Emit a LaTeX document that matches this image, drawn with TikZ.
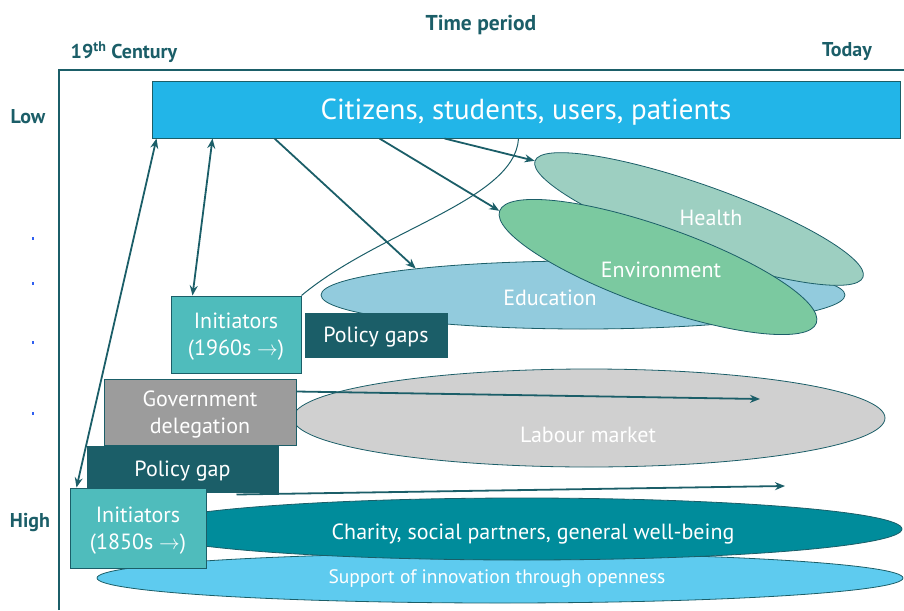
\documentclass[tikz,border=0pt]{standalone}
\usepackage{fontspec}
\setmainfont{PT Sans}
\usepackage{xcolor}
\usetikzlibrary{positioning,shapes.geometric,arrows.meta}
\definecolor{dteal}{HTML}{1B5E68}
\definecolor{skyblue}{HTML}{22B5E8}
\definecolor{initcol}{HTML}{4FBCBC}
\definecolor{govcol}{HTML}{9C9C9C}
\definecolor{labcol}{HTML}{D0D0D0}
\definecolor{charcol}{HTML}{008C9B}
\definecolor{suppcol}{HTML}{5ECBEF}
\definecolor{educol}{HTML}{92CBDD}
\definecolor{healthcol}{HTML}{9DCFC1}
\definecolor{envcol}{HTML}{7BC9A0}
\definecolor{dotcol}{HTML}{3060F0}

\begin{document}
\begin{tikzpicture}[x=1pt, y=-1pt, >={Stealth[length=10pt, width=8pt]}, every node/.style={font=\fontsize{22}{27}\selectfont}]
\tikzstyle{box}=[rectangle, draw=dteal, line width=1pt, text=white, align=center, inner sep=0pt, text depth=0pt]
\tikzstyle{blob}=[ellipse, draw=dteal, line width=0.8pt, inner sep=0pt]
\tikzstyle{conn}=[draw=dteal, line width=1.8pt]
\tikzstyle{lbl}=[text=white]
\tikzstyle{head}=[text=dteal, font=\bfseries\fontsize{20}{24}\selectfont]
\useasboundingbox (0,0) rectangle (904,610);

% axis and headings
\draw[dteal, line width=1.2pt] (59,610) -- (59,70) -- (904,70);
\node[head, font=\bfseries\fontsize{21.5}{24}\selectfont] (time) at (481,25) {Time period};
\node[head] (past) at (124,52) {19\textsuperscript{th} Century};
\node[head] (today) at (847,52) {Today};
\node[head] (low) at (28,117) {Low};
\node[head] (high) at (30,523) {High};
\foreach \y in {238,283,342,413}
  \fill[dotcol] (32,\y-1.5) rectangle (34,\y+1.5);

% policy areas
\node[blob, fill=educol, minimum width=524pt, minimum height=68pt] (edu) at (583,295) {};
\node[blob, fill=healthcol, minimum width=348pt, minimum height=68pt, rotate=-19.5] (health) at (699,219) {};
\node[blob, fill=envcol, minimum width=336pt, minimum height=80pt, rotate=-19.5] (env) at (658,267) {};
\node[blob, fill=labcol, minimum width=592pt, minimum height=98pt] (lab) at (589,418) {};
\node[blob, fill=suppcol, minimum width=806pt, minimum height=50pt] (supp) at (500,578) {};
\node[blob, fill=charcol, minimum width=760pt, minimum height=62pt] (char) at (522,529) {};
\node[lbl] at (711,218) {Health};
\node[lbl] at (661,270) {Environment};
\node[lbl] at (550,298) {Education};
\node[lbl] at (588,435) {Labour market};
\node[lbl] at (533,534) {Charity, social partners, general well-being};
\node[lbl, font=\fontsize{19.5}{23}\selectfont] at (497,579) {Support of innovation through openness};

% actors
\node[box, fill=skyblue, minimum width=748pt, minimum height=57pt, font=\fontsize{29}{33}\selectfont] (main) at (526,109.5) {Citizens, students, users, patients};
\node[box, fill=initcol, minimum width=130pt, minimum height=77pt] (init60) at (236,334.5) {Initiators\\(1960s $\rightarrow$)};
\node[box, fill=dteal, minimum width=142pt, minimum height=44pt] (gaps) at (376,335) {Policy gaps};
\node[box, fill=govcol, minimum width=192pt, minimum height=66pt] (gov) at (200,412) {Government\\delegation};
\node[box, fill=dteal, minimum width=191pt, minimum height=46pt] (gap) at (182.5,469) {Policy gap};
\node[box, fill=initcol, minimum width=136pt, minimum height=80pt] (init50) at (138,528) {Initiators\\(1850s $\rightarrow$)};

% connectors
\coordinate (labend) at (760,399);
\coordinate (charend) at (785,486);
\draw[conn, <->] ([xshift=7pt]init50.north west) -- ([xshift=5pt]main.south west);
\draw[conn, <->] ([xshift=22pt]init60.north west) -- ([xshift=61pt]main.south west);
\draw[conn, ->] ([xshift=123pt]main.south west) -- (edu.171);
\draw[conn, ->] ([xshift=228pt]main.south west) -- (env.west);
\draw[conn, ->] ([xshift=293pt]main.south west) -- (health.west);
\draw[dteal, line width=1pt] (init60.north east) .. controls (380,230) and (515,200) .. ([xshift=367pt]main.south west);
\draw[conn, ->] ([yshift=-13pt]gov.north east) -- (labend);
\draw[conn, ->] ([xshift=-42pt,yshift=-2pt]gap.south east) -- (charend);
\end{tikzpicture}
\end{document}
